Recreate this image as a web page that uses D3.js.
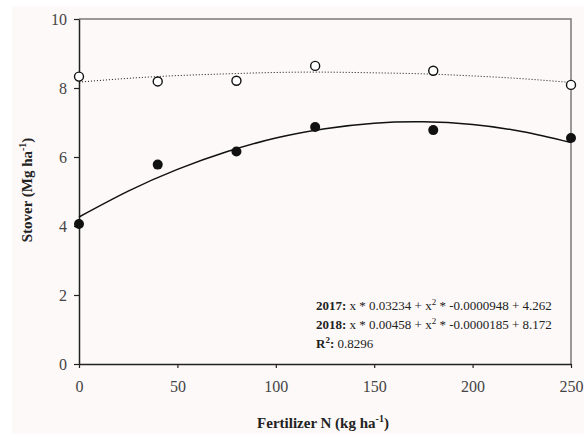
<!DOCTYPE html>
<html>
<head>
<meta charset="utf-8">
<script src="https://cdn.jsdelivr.net/npm/d3@7"></script>
<style>
  body { margin: 0; background: #ffffff; }
  svg { display: block; }
</style>
</head>
<body>
<div id="chart"></div>
<script>
// measured points, N rate (kg/ha)
var nRates = [0, 40, 80, 120, 180, 250];
var stover2017 = [4.06, 5.78, 6.16, 6.87, 6.78, 6.55];
var stover2018 = [8.33, 8.19, 8.21, 8.64, 8.50, 8.09];

// fitted curves
var fitX = [0, 25, 50, 75, 100, 125, 150, 175, 200, 225, 250];
var fit2017 = [4.26, 5.01, 5.64, 6.15, 6.55, 6.82, 6.98, 7.02, 6.94, 6.74, 6.42];
var fit2018 = [8.17, 8.28, 8.36, 8.41, 8.45, 8.46, 8.44, 8.41, 8.35, 8.27, 8.16];

var xTicks = [0, 50, 100, 150, 200, 250];
var yTicks = [0, 2, 4, 6, 8, 10];

var width = 584, height = 434;
var margin = {top: 19, right: 13, bottom: 70, left: 79};
var serif = "Liberation Serif, serif";

var svg = d3.select("#chart").append("svg")
  .attr("width", width)
  .attr("height", height);

// light panel behind everything
svg.append("rect")
  .attr("x", 12).attr("y", 6)
  .attr("width", width - 12).attr("height", height - 6)
  .attr("fill", "#fdf9f8");

var x = d3.scaleLinear().domain([0, 250]).range([margin.left, width - margin.right]);
var y = d3.scaleLinear().domain([0, 10]).range([height - margin.bottom, margin.top]);

// top and right frame lines
svg.append("path")
  .attr("d", "M" + x(0) + "," + y(10) + "H" + x(250) + "V" + y(0))
  .attr("fill", "none")
  .attr("stroke", "#7a7a7a")
  .attr("stroke-width", 1.5);

var xAxis = svg.append("g")
  .attr("transform", "translate(0," + y(0) + ")")
  .call(d3.axisBottom(x).tickValues(xTicks).tickSize(4).tickPadding(13).tickSizeOuter(0));

var yAxis = svg.append("g")
  .attr("transform", "translate(" + x(0) + ",0)")
  .call(d3.axisLeft(y).tickValues(yTicks).tickSize(5).tickPadding(7).tickSizeOuter(0));

[xAxis, yAxis].forEach(function(g){
  g.attr("font-family", serif).attr("font-size", 16);
  g.select(".domain").attr("stroke", "#222").attr("stroke-width", 1.5);
  g.selectAll(".tick line").attr("stroke", "#222").attr("stroke-width", 1.2);
  g.selectAll(".tick text").attr("fill", "#444");
});

// fitted lines
var line = d3.line()
  .x(function(d){ return x(d[0]); })
  .y(function(d){ return y(d[1]); })
  .curve(d3.curveNatural);

svg.append("path")
  .datum(d3.zip(fitX, fit2018))
  .attr("d", line)
  .attr("fill", "none")
  .attr("stroke", "#111")
  .attr("stroke-width", 1)
  .attr("stroke-dasharray", "1,2");

svg.append("path")
  .datum(d3.zip(fitX, fit2017))
  .attr("d", line)
  .attr("fill", "none")
  .attr("stroke", "#111")
  .attr("stroke-width", 1.5);

// 2018 open circles
svg.append("g").selectAll("circle")
  .data(d3.zip(nRates, stover2018))
  .enter().append("circle")
  .attr("cx", function(d){ return x(d[0]); })
  .attr("cy", function(d){ return y(d[1]); })
  .attr("r", 4.5)
  .attr("fill", "#fff")
  .attr("stroke", "#111")
  .attr("stroke-width", 1.4);

// 2017 filled circles
svg.append("g").selectAll("circle")
  .data(d3.zip(nRates, stover2017))
  .enter().append("circle")
  .attr("cx", function(d){ return x(d[0]); })
  .attr("cy", function(d){ return y(d[1]); })
  .attr("r", 5)
  .attr("fill", "#111");

// equations
var eq = svg.append("g")
  .attr("font-family", serif)
  .attr("font-size", 13)
  .attr("fill", "#222");

var t1 = eq.append("text").attr("x", 316).attr("y", 310);
t1.append("tspan").attr("font-weight", "bold").text("2017:");
t1.append("tspan").text(" x * 0.03234 + x");
t1.append("tspan").attr("font-size", 9).attr("dy", -5).text("2");
t1.append("tspan").attr("dy", 5).text(" * -0.0000948 + 4.262");

var t2 = eq.append("text").attr("x", 316).attr("y", 329);
t2.append("tspan").attr("font-weight", "bold").text("2018:");
t2.append("tspan").text(" x * 0.00458 + x");
t2.append("tspan").attr("font-size", 9).attr("dy", -5).text("2");
t2.append("tspan").attr("dy", 5).text(" * -0.0000185 + 8.172");

var t3 = eq.append("text").attr("x", 316).attr("y", 348);
t3.append("tspan").attr("font-weight", "bold").text("R");
t3.append("tspan").attr("font-weight", "bold").attr("font-size", 9).attr("dy", -5).text("2");
t3.append("tspan").attr("font-weight", "bold").attr("dy", 5).text(":");
t3.append("tspan").text(" 0.8296");

// axis titles
var xt = svg.append("text")
  .attr("x", (x(0) + x(250)) / 2 - 2)
  .attr("y", 428)
  .attr("text-anchor", "middle")
  .attr("font-family", serif)
  .attr("font-weight", "bold")
  .attr("font-size", 15)
  .attr("fill", "#222");
xt.append("tspan").text("Fertilizer N (kg ha");
xt.append("tspan").attr("font-size", 10).attr("dy", -6).text("-1");
xt.append("tspan").attr("dy", 6).text(")");

var yt = svg.append("text")
  .attr("transform", "translate(32," + 190 + ") rotate(-90)")
  .attr("text-anchor", "middle")
  .attr("font-family", serif)
  .attr("font-weight", "bold")
  .attr("font-size", 15)
  .attr("fill", "#222");
yt.append("tspan").text("Stover (Mg ha");
yt.append("tspan").attr("font-size", 10).attr("dy", -6).text("-1");
yt.append("tspan").attr("dy", 6).text(")");
</script>
</body>
</html>
